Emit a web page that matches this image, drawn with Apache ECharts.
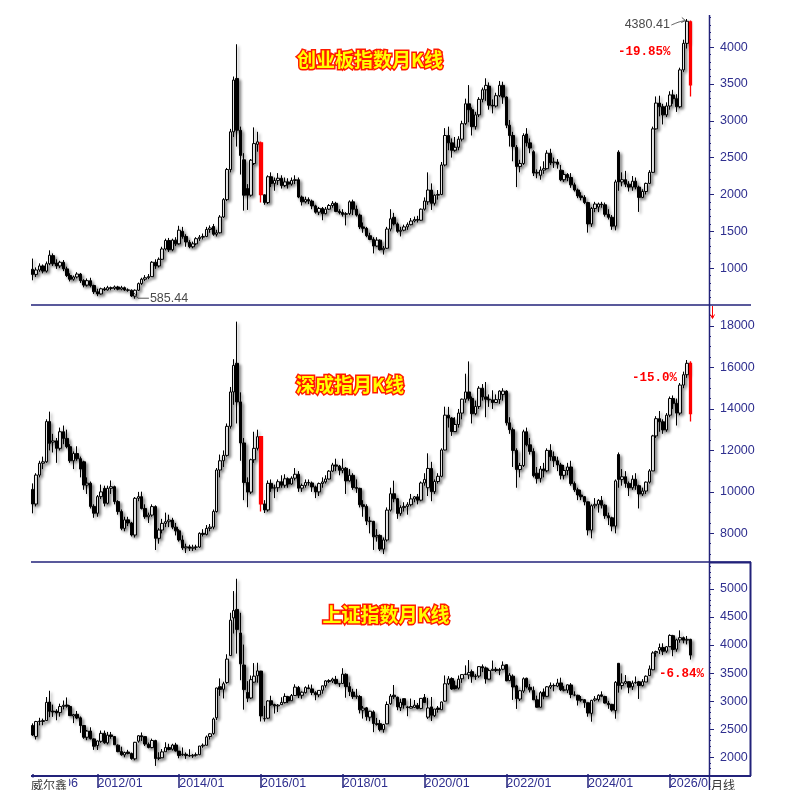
<!DOCTYPE html>
<html>
<head>
<meta charset="utf-8">
<title>月K线</title>
<script src="https://cdn.jsdelivr.net/npm/echarts@6/dist/echarts.min.js"></script>
<style>
html,body{margin:0;padding:0;background:#ffffff;}
#chart{width:803px;height:790px;}
</style>
</head>
<body>
<div id="chart"></div>
<script>
const NAVY = '#22227a';
const LABEL = '#2f2f8f';

// categories: 2010/06 ... 2026/12 (last five are empty space right of the final candle)
const months = [];
for (let y = 2010, m = 6; y < 2027;) { months.push(y + '/' + (m < 10 ? '0' + m : m)); if (++m > 12) { m = 1; y++; } }

const xTickLabels = ['2010/06','2012/01','2014/01','2016/01','2018/01','2020/01','2022/01','2024/01','2026/01'];
const cybTicks  = [1000,1500,2000,2500,3000,3500,4000];
const szczTicks = [8000,10000,12000,14000,16000,18000];
const szzsTicks = [2000,2500,3000,3500,4000,4500,5000];

const cybRed  = ['2016/01','2026/07'];
const szczRed = ['2016/01','2026/07'];
const szzsRed = [];

// [open, close, low, high]
const cybOHLC = [
[985,915,835,1130],[915,975,880,1010],[975,1030,950,1065],[1030,960,930,1050],[960,1060,940,1090],[1060,1175,1040,1242],[1170,1060,1030,1200],
[1070,1030,990,1120],[1030,1080,1000,1100],[1080,990,960,1110],[990,900,880,1020],[900,850,820,930],[850,880,830,900],[880,920,860,945],[920,830,800,935],[830,770,740,850],[770,830,750,860],[830,765,740,870],[765,680,650,775],
[680,650,620,720],[650,720,640,735],[720,705,690,745],[705,735,695,760],[735,725,700,750],[725,745,705,765],[745,715,700,760],[715,735,700,760],[735,705,690,750],[705,700,680,725],[700,622,610,712],[620,700,585.44,712],
[700,790,690,805],[790,850,770,870],[850,870,825,905],[870,885,850,920],[885,1080,880,1095],[1080,1030,990,1120],[1030,1120,1010,1145],[1120,1260,1110,1290],[1260,1375,1240,1400],[1375,1250,1220,1410],[1250,1380,1230,1400],[1380,1330,1300,1420],
[1330,1515,1320,1575],[1500,1430,1400,1560],[1430,1355,1290,1460],[1350,1290,1270,1380],[1290,1330,1270,1360],[1330,1400,1310,1420],[1400,1420,1370,1450],[1420,1430,1390,1470],[1430,1525,1420,1560],[1525,1545,1480,1580],[1565,1460,1440,1600],[1460,1480,1430,1520],
[1480,1694,1470,1720],[1694,1930,1680,1950],[1930,2338,1910,2360],[2338,2850,2300,2890],[2850,3552,2780,3600],[3574,2872,2650,4037.96],[2870,2530,2270,2920],[2470,1990,1780,2560],[2080,1990,1790,2140],[1990,2465,1970,2480],[2420,2690,2400,2910],[2680,2714,2580,2850],
[2700,1998,1890,2720],[1995,1890,1860,2000],[1890,2240,1870,2260],[2240,2150,2100,2300],[2150,2190,2050,2230],[2190,2220,2130,2290],[2220,2120,2080,2260],[2120,2170,2100,2230],[2170,2140,2080,2220],[2140,2190,2120,2230],[2190,2200,2140,2260],[2200,1965,1950,2230],
[1965,1900,1850,1985],[1900,1930,1880,1970],[1930,1910,1870,1960],[1910,1845,1800,1930],[1845,1760,1740,1860],[1760,1810,1720,1830],[1810,1740,1650,1830],[1740,1800,1730,1830],[1800,1850,1790,1870],[1850,1880,1820,1910],[1880,1770,1760,1900],[1770,1755,1730,1800],
[1755,1730,1700,1800],[1730,1740,1580,1760],[1740,1900,1720,1920],[1900,1800,1720,1930],[1800,1720,1700,1850],[1720,1560,1530,1740],[1560,1540,1480,1620],[1540,1440,1420,1560],[1440,1390,1380,1480],[1390,1300,1200,1420],[1300,1380,1290,1420],[1380,1250,1240,1390],
[1250,1270,1184,1300],[1270,1530,1260,1560],[1530,1670,1500,1800],[1690,1600,1580,1750],[1600,1500,1480,1620],[1500,1515,1430,1560],[1515,1560,1500,1590],[1560,1590,1520,1620],[1590,1640,1580,1680],[1640,1660,1620,1700],[1660,1650,1620,1710],[1650,1800,1640,1810],
[1800,1910,1780,1960],[1900,2060,1860,2300],[2060,1880,1790,2150],[1880,1990,1850,2000],[1990,2000,1930,2060],[2000,2400,1990,2440],[2400,2800,2380,2900],[2800,2700,2600,2920],[2700,2600,2500,2760],[2600,2640,2580,2780],[2640,2750,2600,2790],[2750,2960,2720,3000],
[2960,3230,2940,3300],[3230,3150,2980,3484],[3150,2920,2800,3180],[2920,3080,2880,3120],[3080,3290,3050,3320],[3290,3420,3250,3450],[3420,3480,3270,3576],[3470,3210,3150,3520],[3210,3200,3100,3290],[3200,3340,3180,3380],[3340,3480,3320,3540],[3480,3322,3230,3530],
[3322,2940,2900,3330],[2940,2800,2650,3010],[2800,2650,2450,2850],[2640,2380,2100,2670],[2380,2420,2300,2470],[2420,2800,2400,2830],[2820,2700,2650,2900],[2700,2630,2560,2760],[2580,2290,2250,2600],[2290,2300,2220,2340],[2260,2330,2200,2380],[2330,2350,2280,2450],
[2350,2560,2340,2600],[2560,2430,2400,2620],[2430,2440,2360,2500],[2440,2410,2350,2480],[2330,2200,2180,2400],[2200,2270,2170,2330],[2270,2230,2180,2290],[2230,2130,2090,2290],[2130,2060,2040,2160],[2060,1980,1950,2080],[1980,1960,1920,2030],[1960,1890,1870,1990],
[1890,1600,1482,1900],[1600,1810,1560,1830],[1810,1870,1760,1900],[1830,1870,1760,1890],[1870,1860,1820,1900],[1860,1730,1700,1890],[1730,1690,1660,1800],[1690,1570,1520,1720],[1570,2170,1513,2200],[2574,2170,2050,2600],[2170,2200,2110,2300],[2200,2140,2100,2320],
[2140,2100,2040,2180],[2100,2180,2050,2250],[2180,2100,2070,2230],[2100,1960,1763,2120],[1960,2040,1950,2070],[2040,2150,2000,2160],[2150,2300,2140,2330],[2300,2890,2290,2920],[2890,3240,2880,3330],[3240,3190,3060,3340],[3190,3080,2950,3230],[3080,3200,3050,3250],
[3200,3350,3150,3400],[3350,3300,3230,3420],[3300,3190,3120,3360],[3190,3690,3170,3720],[3690,4050,3660,4100],[4050,4350,3980,4380.41],[4340,3487,3330,4360]
];

const szczOHLC = [
[10120,9415,8965,10410],[9415,10810,9300,10900],[10810,11380,10700,11500],[11380,11450,11100,11700],[11450,13390,11400,13500],[13390,12340,12000,13870],[12400,12460,11900,12800],
[12460,12100,11400,12600],[12100,12900,12000,13100],[12900,12580,12300,13200],[12580,12180,12100,13000],[12180,11500,11400,12300],[11500,11850,11100,11950],[11850,11600,11500,12200],[11600,11100,10700,11700],[11450,10330,10100,11500],[10330,10420,9900,10700],[10420,9300,9200,10500],[9300,8970,8750,9400],
[8970,9770,8800,9850],[9770,10000,9650,10350],[10170,9450,9300,10300],[9450,10170,9400,10300],[10170,10250,9900,10550],[10250,9530,9400,10300],[9530,9050,8900,9600],[9050,8240,8150,9150],[8240,8650,8100,8800],[8650,8500,8350,8800],[8500,7920,7850,8550],[7920,9690,7800,9750],
[9690,9770,9550,10000],[9770,9200,9150,10010],[9200,8800,8700,9400],[8800,8880,8500,9000],[8880,9290,8800,9400],[9290,7760,7197,9350],[7760,8160,7500,8250],[8160,8480,8000,8700],[8480,8560,8300,9000],[8560,8640,8300,8900],[8640,8300,8200,8750],[8300,8120,7900,8500],
[8120,7680,7600,8200],[7680,7300,7200,7900],[7300,7350,7050,7500],[7350,7280,7150,7450],[7280,7330,7150,7450],[7330,7340,7200,7450],[7340,8000,7300,8050],[8000,7950,7850,8200],[7950,8240,7900,8400],[8240,8300,8100,8450],[8300,9050,8200,9150],[9050,11055,9000,11150],
[11055,11500,10700,11800],[11500,11760,11200,12000],[11760,13160,11700,13300],[13160,14820,13050,15060],[14820,16100,14200,16400],[16200,14340,13300,18211],[14340,12360,11500,14800],[12360,10450,9600,12600],[10450,9990,9260,10700],[9990,11550,9900,11600],[11550,12100,11400,12900],[12100,12660,12000,13000],
[12660,9420,9050,12700],[9420,9130,8980,9600],[9130,10410,9050,10550],[10410,10180,10000,10600],[10180,10200,9700,10350],[10200,10490,10000,10600],[10490,10320,10200,10800],[10320,10630,10200,10850],[10630,10380,10200,10700],[10380,10660,10350,10750],[10660,10850,10550,11150],[10850,10180,10000,11000],
[10180,10310,10000,10400],[10310,10450,10200,10600],[10450,10430,10300,10600],[10430,10240,10000,10500],[10240,10000,9700,10300],[10000,10400,9800,10450],[10400,10480,10200,10700],[10480,10620,10400,10800],[10620,11000,10600,11050],[11000,11300,10950,11400],[11300,11240,11000,11600],[11240,11040,10800,11300],
[11040,11140,10900,11600],[11140,10530,9900,11200],[10530,10800,10500,11100],[10800,10210,10100,10900],[10210,10170,9950,10600],[10170,9380,9250,10200],[9380,9300,8800,9600],[9300,8590,8400,9400],[8590,8580,8000,8800],[8580,7830,7200,8600],[7830,7900,7600,8200],[7900,7240,7150,7950],
[7240,7680,7000,7800],[7680,9120,7600,9250],[9120,9910,9050,10200],[9910,9670,9500,10540],[9670,8960,8700,9700],[8960,9240,8850,9350],[9240,9300,9050,9500],[9300,9380,8900,9500],[9380,9660,9300,9900],[9660,9760,9500,9800],[9760,9600,9400,9900],[9600,10430,9550,10500],
[10430,10600,10300,10900],[10200,11130,9800,11860],[11130,10010,9550,11450],[10010,10500,9900,10600],[10500,10750,10400,10900],[10750,12020,10700,12100],[12020,13700,12000,14110],[13700,13560,13100,14100],[13560,12910,12700,13600],[12910,13250,12900,13600],[13250,13800,13100,14000],[13800,14470,13500,14500],
[14470,14820,14300,15700],[14820,14510,14400,16293],[14510,13770,13300,14600],[13770,14120,13700,14400],[14120,15000,14000,15100],[15000,14580,14400,15200],[14580,14470,13600,15300],[14470,14440,14100,14700],[14440,14310,14000,14900],[14310,14450,14300,14700],[14450,14860,14250,14900],[14700,14860,14400,15000],
[14860,13330,13200,14900],[13330,13000,12800,13600],[13000,12000,11200,13100],[12000,11080,10200,12100],[11080,11270,10700,11400],[11270,12900,11200,13000],[12900,12270,12200,13100],[12270,11950,11800,12600],[11950,10780,10700,12100],[10900,10650,10400,11200],[10650,11100,10450,11250],[11100,11016,10700,11400],
[11016,12000,10950,12100],[12000,11700,11500,12300],[11700,11500,11200,11950],[11500,11300,11000,11700],[11300,10800,10600,11400],[10800,11030,10600,11300],[11030,11200,10800,11400],[11200,10400,10300,11500],[10400,10100,10000,10500],[10100,9850,9600,10200],[9850,9770,9600,10100],[9770,9520,9350,9800],
[9520,8160,7900,9530],[8160,9330,7760,9400],[9330,9400,9200,9700],[9400,9590,9000,9650],[9590,9360,9200,9800],[9360,8850,8700,9400],[8850,8750,8400,9000],[8750,8350,8100,8800],[8350,10530,8000,10600],[11800,10600,10200,11900],[10600,10730,10300,11100],[10730,10410,10200,11000],
[10410,10200,9800,10500],[10200,10610,10100,10800],[10610,10300,10100,10900],[10300,9900,9200,10350],[9900,10040,9800,10200],[10040,10470,9900,10500],[10470,11010,10400,11100],[11010,12700,11000,12750],[12700,13530,12600,13650],[13530,13380,12900,13900],[13380,12990,12800,13500],[12990,13700,12900,13800],
[13700,14500,13600,14600],[14500,14270,14000,14650],[14270,13800,13200,14500],[13800,15150,13700,15250],[15150,15650,15000,15800],[15650,16200,15500,16360],[16200,13770,13390,16300]
];

const szzsOHLC = [
[2568,2398,2382,2605],[2373,2638,2319,2650],[2646,2638,2570,2705],[2639,2655,2573,2690],[2656,2979,2655,3074],[2985,2820,2716,3186],[2824,2808,2721,2939],
[2825,2790,2661,2858],[2798,2905,2725,2956],[2907,2928,2853,3012],[2932,2911,2884,3067],[2906,2743,2742,2929],[2737,2762,2610,2775],[2767,2701,2681,2826],[2704,2567,2437,2728],[2567,2359,2331,2573],[2359,2468,2307,2487],[2470,2333,2319,2536],[2329,2199,2134,2338],
[2212,2292,2132,2300],[2286,2428,2259,2478],[2430,2262,2242,2478],[2259,2396,2232,2454],[2400,2372,2332,2453],[2371,2225,2222,2381],[2218,2103,2092,2232],[2104,2047,2029,2190],[2045,2086,2002,2103],[2096,2068,2054,2135],[2070,1980,1959,2086],[1975,2269,1949,2276],
[2289,2385,2262,2397],[2386,2365,2293,2444],[2370,2237,2204,2370],[2233,2177,2161,2265],[2175,2301,2163,2334],[2300,1979,1849,2314],[1982,1994,1951,2092],[1994,2098,1989,2149],[2101,2175,2101,2270],[2175,2141,2126,2243],[2145,2220,2122,2243],[2221,2116,2104,2260],
[2112,2033,1985,2113],[2047,2056,2027,2177],[2056,2033,1974,2088],[2033,2026,2010,2146],[2026,2039,1991,2062],[2040,2048,2015,2087],[2048,2202,2040,2205],[2203,2217,2170,2248],[2216,2364,2214,2390],[2372,2420,2318,2433],[2426,2683,2401,2708],[2705,3235,2665,3239],
[3258,3210,3095,3406],[3212,3310,3049,3347],[3333,3748,3308,3835],[3811,4442,3807,4573],[4481,4612,4204,4959],[4633,4277,3847,5178],[4214,3664,3373,4572],[3643,3206,2850,4007],[3157,3053,2983,3357],[3057,3383,3039,3457],[3339,3445,3327,3678],[3453,3539,3329,3684],
[3536,2738,2639,3539],[2689,2688,2638,2916],[2698,3004,2681,3019],[3008,2938,2920,3097],[2940,2917,2781,2954],[2916,2930,2807,2948],[2938,2979,2932,3070],[2975,3085,2958,3140],[3080,3005,2969,3095],[3009,3100,3009,3128],[3102,3250,3098,3301],[3243,3104,3056,3271],
[3105,3159,3044,3174],[3151,3242,3137,3265],[3237,3223,3213,3295],[3219,3155,3108,3296],[3150,3117,3017,3178],[3113,3192,3071,3195],[3195,3273,3133,3276],[3275,3361,3240,3374],[3366,3349,3323,3391],[3359,3393,3324,3418],[3388,3317,3300,3450],[3311,3307,3254,3319],
[3314,3481,3314,3587],[3479,3259,3062,3495],[3259,3169,3091,3334],[3163,3082,3041,3220],[3081,3095,3042,3219],[3084,2847,2782,3109],[2841,2876,2691,2915],[2882,2725,2653,2898],[2716,2821,2644,2827],[2810,2603,2449,2838],[2599,2588,2566,2703],[2600,2494,2463,2667],
[2497,2585,2440,2597],[2597,2941,2590,2995],[2954,3091,2935,3129],[3107,3078,3039,3288],[3070,2899,2839,3081],[2887,2979,2825,3044],[3045,2933,2867,3048],[2898,2886,2733,2917],[2877,2905,2873,3047],[2890,2929,2880,3021],[2926,2872,2857,2968],[2871,3050,2857,3055],
[3067,2977,2976,3128],[2716,2880,2685,3058],[2899,2750,2647,3075],[2743,2860,2720,2862],[2878,2852,2797,2915],[2848,2985,2848,2994],[3001,3310,2992,3458],[3311,3396,3286,3446],[3403,3218,3202,3425],[3273,3225,3209,3365],[3233,3392,3209,3457],[3399,3473,3326,3474],
[3474,3483,3463,3637],[3468,3509,3392,3732],[3526,3442,3328,3563],[3439,3447,3380,3482],[3447,3615,3416,3625],[3614,3591,3518,3654],[3592,3397,3312,3616],[3393,3544,3386,3581],[3544,3568,3538,3723],[3568,3547,3520,3605],[3544,3564,3463,3593],[3568,3640,3550,3708],
[3650,3361,3357,3651],[3367,3462,3357,3500],[3445,3253,3023,3477],[3272,3047,2863,3291],[3039,3186,3003,3196],[3180,3399,3147,3424],[3408,3253,3227,3419],[3247,3202,3155,3306],[3189,3024,3021,3262],[3025,2893,2885,3099],[2893,3151,2886,3178],[3163,3089,3034,3226],
[3087,3256,3073,3269],[3249,3280,3216,3333],[3280,3273,3176,3316],[3268,3323,3251,3398],[3325,3205,3180,3419],[3195,3202,3175,3268],[3197,3291,3143,3300],[3289,3120,3053,3322],[3110,3110,3089,3176],[3105,3018,2923,3115],[3020,3030,2990,3092],[3027,2975,2882,3036],
[2972,2789,2724,2976],[2784,3015,2635,3025],[3020,3041,2993,3091],[3031,3105,2995,3123],[3113,3087,3071,3175],[3084,2967,2958,3096],[2962,2939,2865,3005],[2944,2842,2815,2952],[2834,3336,2689,3358],[3674,3279,3152,3674],[3279,3326,3209,3494],[3320,3352,3300,3465],
[3347,3250,3141,3352],[3258,3321,3200,3366],[3327,3336,3310,3440],[3346,3279,3040,3361],[3278,3347,3262,3392],[3342,3444,3341,3459],[3455,3573,3448,3636],[3559,3858,3550,3888],[3860,3883,3791,3899],[3910,3955,3840,4025],[3955,3888,3820,4030],[3890,3968,3860,3980],
[3970,4170,3960,4190],[4165,3920,3800,4180],[3925,4090,3880,4110],[4090,4130,4040,4260],[4130,4085,4030,4150],[4085,4100,4010,4160],[4100,3820,3740,4110]
];

function minorList(from, to, step) { const a = []; for (let v = from; v <= to; v += step) a.push(v); return a; }

const chart = echarts.init(document.getElementById('chart'), null, { renderer: 'canvas' });

const grids = [
  { left: 31, width: 678, top: 15, height: 290 },
  { left: 31, width: 678, top: 305, height: 257 },
  { left: 31, width: 678, top: 562, height: 214 }
];
const ranges = [[500, 4435], [6618, 19013], [1705, 5476]];
const majors = [cybTicks, szczTicks, szzsTicks];
const minors = [minorList(600, 4400, 100), minorList(7000, 18500, 500), minorList(1800, 5400, 100)];

function yMain(g) {
  return {
    type: 'value', gridIndex: g, position: 'right', min: ranges[g][0], max: ranges[g][1],
    axisLine: { show: false }, splitLine: { show: false },
    axisTick: { show: true, length: 5, customValues: majors[g], lineStyle: { color: NAVY, width: 1 } },
    axisLabel: { show: true, customValues: majors[g], margin: 11, color: LABEL, fontSize: 12.5,
      fontFamily: '"Liberation Sans", Arial, sans-serif', formatter: v => String(v) }
  };
}
function yMinor(g) {
  return {
    type: 'value', gridIndex: g, position: 'right', min: ranges[g][0], max: ranges[g][1],
    axisLine: { show: false }, splitLine: { show: false }, axisLabel: { show: false },
    axisTick: { show: true, length: 2, customValues: minors[g], lineStyle: { color: NAVY, width: 1 } }
  };
}

function candle(g, data, red) {
  return {
    type: 'candlestick', xAxisIndex: g, yAxisIndex: g, barWidth: 3,
    animation: false, emphasis: { disabled: true },
    itemStyle: {
      color: '#ffffff', color0: '#000000', borderColor: '#000000', borderColor0: '#000000', borderWidth: 1,
      shadowColor: 'rgba(0,0,0,0.45)', shadowBlur: 3, shadowOffsetX: 2, shadowOffsetY: 2
    },
    data: data.map((d, i) => red.indexOf(months[i]) >= 0 ? {
      value: d,
      itemStyle: { color: '#ff0000', color0: '#ff0000', borderColor: '#ff0000', borderColor0: '#ff0000', borderWidth: 1.3, shadowBlur: 0, shadowOffsetX: 0, shadowOffsetY: 0, shadowColor: 'transparent' }
    } : d)
  };
}

const isXLabel = (i, v) => xTickLabels.indexOf(v) >= 0;

function titleText(id, text, x, y) {
  return {
    type: 'text', id, x, y, z: 100,
    style: {
      text, align: 'center', verticalAlign: 'middle',
      font: 'bold 19px "Noto Sans CJK SC", sans-serif',
      fill: '#ffff00', stroke: '#ff1a00', lineWidth: 3, strokeFirst: true,
      shadowBlur: 4, shadowColor: 'rgba(0,0,0,0.55)', shadowOffsetX: 3, shadowOffsetY: 3
    }
  };
}
function pctText(id, text, x, y) {
  return {
    type: 'text', id, x, y, z: 100,
    style: { text, align: 'left', verticalAlign: 'middle', font: 'bold 12.5px "Liberation Mono", "DejaVu Sans Mono", monospace', fill: '#ff0000' }
  };
}
function hLine(id, x1, y1, x2, y2, w) {
  return { type: 'line', id, z: 90, shape: { x1, y1, x2, y2 }, style: { stroke: NAVY, lineWidth: w } };
}

const baseGraphics = [
  hLine('h1', 31, 305, 751, 305, 1.5),
  hLine('h2', 31, 562, 751, 562, 1.5),
  hLine('h3', 31, 776, 751, 776, 2),
  hLine('v1', 709.5, 15, 709.5, 790, 1.5),
  hLine('v2', 750.5, 562, 750.5, 776, 2),
  hLine('h2b', 709, 562.5, 751, 562.5, 2),
  titleText('t1', '创业板指数月K线', 370, 60),
  titleText('t2', '深成指月K线', 350, 385),
  titleText('t3', '上证指数月K线', 386, 615),
  pctText('p1', '-19.85%', 618, 52),
  pctText('p2', '-15.0%', 632, 378),
  pctText('p3', '-6.84%', 659, 674),
  { type: 'rect', id: 'wbox', z: 95, shape: { x: 28, y: 777.5, width: 41, height: 12.5 }, style: { fill: '#ffffff' } },
  { type: 'text', id: 'wtxt', z: 100, x: 31, y: 785, style: { text: '威尔鑫', align: 'left', verticalAlign: 'middle', font: '12px "Noto Sans CJK SC", sans-serif', fill: '#333333' } },
  { type: 'rect', id: 'ybox', z: 95, shape: { x: 710.5, y: 777, width: 92, height: 13 }, style: { fill: '#ffffff' } },
  { type: 'text', id: 'ytxt', z: 100, x: 711, y: 785, style: { text: '月线', align: 'left', verticalAlign: 'middle', font: '12px "Noto Sans CJK SC", sans-serif', fill: '#333333' } },
  { type: 'line', id: 'arr1', z: 100, shape: { x1: 712.5, y1: 306, x2: 712.5, y2: 318 }, style: { stroke: '#ff0000', lineWidth: 1 } },
  { type: 'polyline', id: 'arr2', z: 100, shape: { points: [[710.5, 314.5], [712.5, 318.5], [714.5, 314.5]] }, style: { stroke: '#ff0000', lineWidth: 1, fill: null } }
];

const option = {
  animation: false,
  backgroundColor: '#ffffff',
  grid: grids,
  xAxis: [
    { type: 'category', gridIndex: 0, data: months, show: false },
    { type: 'category', gridIndex: 1, data: months, show: false },
    {
      type: 'category', gridIndex: 2, data: months, position: 'bottom',
      axisLine: { show: false }, splitLine: { show: false },
      axisTick: { show: true, alignWithLabel: true, length: 14, interval: isXLabel, lineStyle: { color: NAVY, width: 1.5 } },
      axisLabel: { show: true, interval: isXLabel, align: 'left', margin: 3, color: LABEL, fontSize: 12.5, fontFamily: '"Liberation Sans", Arial, sans-serif', hideOverlap: false }
    }
  ],
  yAxis: [yMain(0), yMain(1), yMain(2), yMinor(0), yMinor(1), yMinor(2)],
  series: [candle(0, cybOHLC, cybRed), candle(1, szczOHLC, szczRed), candle(2, szzsOHLC, szzsRed)],
  graphic: { elements: baseGraphics }
};

chart.setOption(option);

// extreme-value annotations of the top panel, placed through the chart's own scales
let hi = 0, lo = 0;
cybOHLC.forEach((d, i) => { if (d[3] > cybOHLC[hi][3]) hi = i; if (d[2] < cybOHLC[lo][2]) lo = i; });
const ph = chart.convertToPixel({ xAxisIndex: 0, yAxisIndex: 0 }, [hi, cybOHLC[hi][3]]);
const pl = chart.convertToPixel({ xAxisIndex: 0, yAxisIndex: 0 }, [lo, cybOHLC[lo][2]]);
const annot = [
  { type: 'text', id: 'hiT', z: 100, x: ph[0] - 17, y: ph[1] + 6, style: { text: cybOHLC[hi][3].toFixed(2), align: 'right', verticalAlign: 'middle', font: '12.5px "Liberation Sans", Arial, sans-serif', fill: '#4a4a4a' } },
  { type: 'polyline', id: 'hiL', z: 100, shape: { points: [[ph[0] - 15.5, ph[1] + 6], [ph[0] - 8, ph[1] + 3], [ph[0] - 1.5, ph[1] + 1.5]], smooth: 0.3 }, style: { stroke: '#555555', lineWidth: 1, fill: null } },
  { type: 'polyline', id: 'hiA', z: 100, shape: { points: [[ph[0] - 5, ph[1] - 1.5], [ph[0] - 1.5, ph[1] + 1.5], [ph[0] - 5.5, ph[1] + 3.5]] }, style: { stroke: '#555555', lineWidth: 1, fill: null } },
  { type: 'polyline', id: 'loL', z: 100, shape: { points: [[pl[0] - 1, pl[1] - 6], [pl[0] + 3, pl[1] - 0.5], [pl[0] + 14, pl[1] - 0.5]] }, style: { stroke: '#555555', lineWidth: 1, fill: null } },
  { type: 'text', id: 'loT', z: 100, x: pl[0] + 15, y: pl[1] - 0.5, style: { text: cybOHLC[lo][2].toFixed(2), align: 'left', verticalAlign: 'middle', font: '12.5px "Liberation Sans", Arial, sans-serif', fill: '#4a4a4a' } }
];
chart.setOption({ graphic: { elements: baseGraphics.concat(annot) } });
</script>
</body>
</html>
